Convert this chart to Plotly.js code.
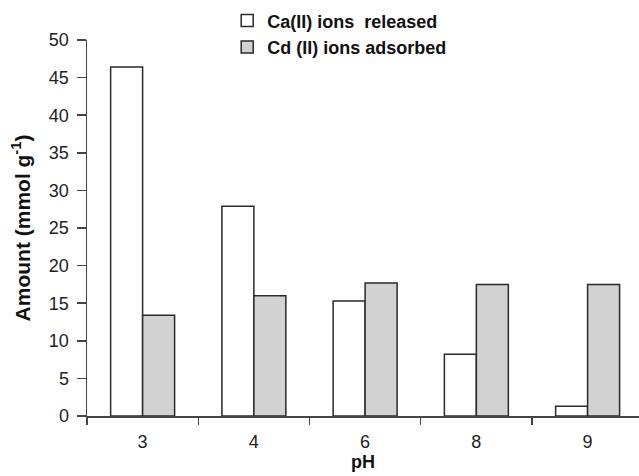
<!DOCTYPE html>
<html>
<head>
<meta charset="utf-8">
<script src="https://cdn.plot.ly/plotly-3.0.1.min.js"></script>
<style>html,body{margin:0;padding:0;background:#fff;}#chart{width:639px;height:476px;}</style>
</head>
<body>
<div id="chart"></div>
<script>
const categories = ["3", "4", "6", "8", "9"];
const caReleased = [46.4, 27.9, 15.3, 8.2, 1.3];
const cdAdsorbed = [13.4, 16.0, 17.7, 17.5, 17.5];
const seriesNames = ["Ca(II) ions\u00a0 released", "Cd (II) ions adsorbed"];
const yTicks = [0, 5, 10, 15, 20, 25, 30, 35, 40, 45, 50];

const fontFam = "Arial, 'Liberation Sans', Helvetica, sans-serif";
const lineCol = "#2a2a2a";

const traces = [
  {type: "bar", name: seriesNames[0], x: categories, y: caReleased,
   marker: {color: "#ffffff", line: {color: lineCol, width: 1.5}}},
  {type: "bar", name: seriesNames[1], x: categories, y: cdAdsorbed,
   marker: {color: "#d2d2d2", line: {color: lineCol, width: 1.5}}}
];

const layout = {
  width: 639, height: 476,
  margin: {l: 87, r: 0, t: 40, b: 60, pad: 0},
  paper_bgcolor: "#ffffff", plot_bgcolor: "#ffffff",
  font: {family: fontFam, color: "#222", size: 18},
  barmode: "group",
  bargap: 0.425, bargroupgap: 0,
  showlegend: true,
  legend: {
    x: 0.254, xanchor: "left", y: 1.1, yanchor: "top",
    bgcolor: "rgba(0,0,0,0)", borderwidth: 0,
    font: {family: fontFam, size: 18, weight: "bold", color: "#111"},
    tracegroupgap: 0, itemwidth: 30
  },
  xaxis: {
    type: "category",
    range: [-0.5, 4.462],
    showline: true, linecolor: "#444", linewidth: 1.5,
    ticks: "outside", tickson: "boundaries", ticklen: 7, tickcolor: "#444", tickwidth: 1.5,
    ticklabelstandoff: 9,
    showgrid: false, zeroline: false,
    tickfont: {family: fontFam, size: 18, color: "#222"},
    title: {text: "pH", font: {family: fontFam, size: 18, weight: "bold", color: "#111"}, standoff: 2},
    automargin: false
  },
  yaxis: {
    range: [0, 50],
    tickvals: yTicks, ticktext: yTicks.map(String),
    showline: true, linecolor: "#444", linewidth: 1.5,
    ticks: "outside", ticklen: 9, tickcolor: "#444", tickwidth: 1.5,
    ticklabelstandoff: 4,
    showgrid: false, zeroline: false,
    tickfont: {family: fontFam, size: 18, color: "#222"},
    title: {text: "Amount (mmol g<sup>-1</sup>)", font: {family: fontFam, size: 21, weight: "bold", color: "#111"}, standoff: 12},
    automargin: false
  }
};

Plotly.newPlot("chart", traces, layout, {displayModeBar: false, staticPlot: true});
</script>
</body>
</html>
